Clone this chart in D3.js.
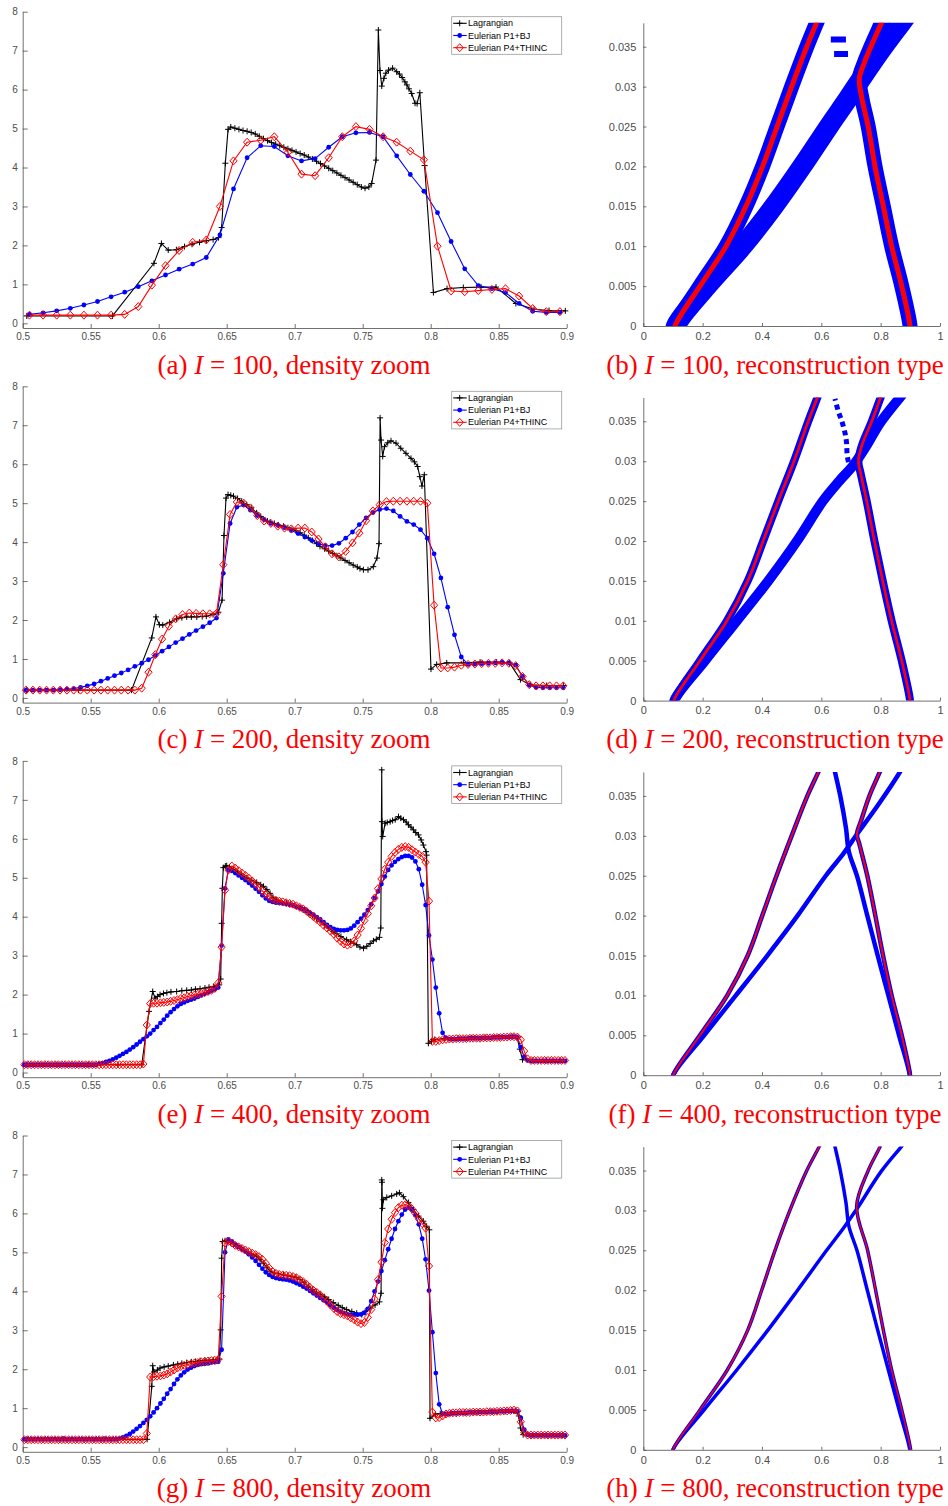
<!DOCTYPE html>
<html>
<head>
<meta charset="utf-8">
<script src="https://cdn.jsdelivr.net/npm/d3@7"></script>
<style>
  body { margin: 0; background: #fff; }
  .caption { font-family: 'Liberation Serif', 'Times New Roman', serif; font-size: 27px; fill: #ff0000; }
  .legend text { font-family: 'Liberation Sans', Arial, sans-serif; font-size: 9px; fill: #000; }
</style>
</head>
<body>
<div id="chart-area"></div>
<script>
// ---- ticks / labels ----
const resolutions = [100, 200, 400, 800];
const letters = [['a', 'b'], ['c', 'd'], ['e', 'f'], ['g', 'h']];
const densityXTicks = [0.5, 0.55, 0.6, 0.65, 0.7, 0.75, 0.8, 0.85, 0.9];
const densityYTicks = [0, 1, 2, 3, 4, 5, 6, 7, 8];
const reconXTicks = [0, 0.2, 0.4, 0.6, 0.8, 1];
const reconTTicks = [0, 0.005, 0.01, 0.015, 0.02, 0.025, 0.03, 0.035];
const legendLabels = ['Lagrangian', 'Eulerian P1+BJ', 'Eulerian P4+THINC'];

// ---- density, I = 100 ----
const lag100 = [[0.503,0.19],[0.566,0.19],[0.5965,1.54],[0.602,2.05],[0.607,1.88],[0.613,1.89],[0.619,1.97],[0.6245,2.03],[0.630,2.08],[0.635,2.12],[0.640,2.15],[0.644,2.20],[0.6463,2.46],[0.649,4.11],[0.651,4.98],[0.653,5.04],[0.656,5.01],[0.659,4.98],[0.662,4.95],[0.665,4.93],[0.668,4.90],[0.671,4.86],[0.674,4.80],[0.677,4.74],[0.680,4.69],[0.683,4.64],[0.686,4.60],[0.689,4.56],[0.692,4.52],[0.695,4.48],[0.698,4.44],[0.701,4.40],[0.704,4.36],[0.707,4.32],[0.710,4.27],[0.713,4.22],[0.716,4.16],[0.719,4.10],[0.722,4.04],[0.725,3.98],[0.728,3.92],[0.731,3.86],[0.734,3.80],[0.737,3.74],[0.740,3.68],[0.743,3.62],[0.746,3.56],[0.749,3.50],[0.7517,3.47],[0.7545,3.50],[0.7566,3.59],[0.7598,4.19],[0.7615,7.53],[0.7627,6.49],[0.764,6.09],[0.7656,6.29],[0.767,6.42],[0.769,6.50],[0.772,6.55],[0.775,6.46],[0.777,6.40],[0.779,6.31],[0.781,6.20],[0.7825,6.12],[0.784,6.02],[0.786,5.90],[0.7885,5.65],[0.790,5.64],[0.792,5.92],[0.7955,4.05],[0.802,0.79],[0.812,0.89],[0.824,0.92],[0.837,0.93],[0.848,0.93],[0.8626,0.51],[0.876,0.36],[0.887,0.33],[0.899,0.32]];
const p1bj100 = [0.23,0.27,0.32,0.385,0.47,0.56,0.68,0.80,0.94,1.09,1.24,1.39,1.52,1.69,2.27,3.45,4.25,4.56,4.54,4.30,4.17,4.23,4.52,4.79,4.89,4.90,4.79,4.30,3.82,3.39,2.84,2.10,1.40,0.97,0.89,0.79,0.51,0.31,0.28,0.28];
const thinc100 = [0.21,0.21,0.21,0.21,0.21,0.21,0.21,0.23,0.43,0.98,1.48,1.87,2.08,2.14,3.0,4.17,4.65,4.70,4.79,4.39,3.83,3.79,4.25,4.79,5.05,4.98,4.79,4.65,4.42,4.20,1.98,0.83,0.81,0.84,0.87,0.89,0.70,0.38,0.30,0.30];

// ---- density, I = 200 ----
const lag200 = [[0.503,0.2],[0.541,0.2],[0.580,0.2],[0.5949,1.54],[0.598,2.08],[0.6005,1.88],[0.603,1.87],[0.608,1.94],[0.613,2.03],[0.617,2.06],[0.6206,2.08],[0.624,2.08],[0.628,2.08],[0.632,2.09],[0.635,2.10],[0.640,2.14],[0.6439,2.2],[0.6466,2.51],[0.648,4.17],[0.6495,5.13],[0.651,5.22],[0.653,5.20],[0.655,5.18],[0.658,5.12],[0.661,5.05],[0.6647,4.96],[0.668,4.88],[0.672,4.75],[0.675,4.66],[0.677,4.58],[0.680,4.54],[0.6819,4.51],[0.685,4.48],[0.688,4.44],[0.6917,4.41],[0.695,4.37],[0.698,4.33],[0.701,4.29],[0.704,4.24],[0.707,4.18],[0.710,4.11],[0.713,4.04],[0.716,3.96],[0.7186,3.89],[0.722,3.83],[0.725,3.77],[0.728,3.71],[0.731,3.65],[0.734,3.59],[0.737,3.53],[0.740,3.47],[0.743,3.41],[0.746,3.36],[0.748,3.32],[0.7505,3.29],[0.7539,3.29],[0.7578,3.37],[0.7605,3.59],[0.762,3.96],[0.7628,7.19],[0.7635,6.62],[0.7647,6.20],[0.766,6.45],[0.7684,6.55],[0.7708,6.60],[0.7745,6.54],[0.778,6.41],[0.7818,6.28],[0.7855,6.15],[0.788,6.06],[0.7904,5.94],[0.792,5.68],[0.7936,5.44],[0.7953,5.73],[0.8002,0.74],[0.8044,0.86],[0.8118,0.90],[0.824,0.90],[0.8363,0.92],[0.8485,0.92],[0.858,0.90],[0.866,0.47],[0.8731,0.34],[0.8853,0.32],[0.8975,0.32]];
const p1bj200 = [0.20,0.20,0.20,0.20,0.20,0.21,0.22,0.24,0.27,0.31,
  0.36,0.43,0.50,0.57,0.64,0.72,0.81,0.89,0.98,1.09,
  1.20,1.31,1.42,1.52,1.63,1.73,1.83,1.93,2.05,3.20,
  4.48,4.90,4.95,4.82,4.68,4.58,4.48,4.43,4.37,4.30,
  4.22,4.13,4.04,3.96,3.91,3.91,3.97,4.10,4.26,4.45,
  4.62,4.76,4.84,4.86,4.80,4.66,4.53,4.45,4.32,4.10,
  3.70,3.08,2.33,1.62,1.05,0.86,0.87,0.88,0.89,0.90,
  0.91,0.90,0.84,0.55,0.33,0.27,0.26,0.26,0.26,0.26];
const thinc200 = [0.20,0.20,0.20,0.20,0.20,0.20,0.20,0.20,0.20,0.20,
  0.20,0.20,0.20,0.20,0.20,0.20,0.20,0.25,0.66,1.11,
  1.51,1.84,2.03,2.14,2.18,2.17,2.16,2.16,2.17,3.42,
  4.71,5.03,5.00,4.88,4.68,4.54,4.48,4.41,4.36,4.34,
  4.36,4.36,4.26,4.08,3.88,3.70,3.62,3.76,3.98,4.23,
  4.55,4.80,4.96,5.04,5.05,5.05,5.05,5.05,5.05,5.00,
  2.38,0.77,0.77,0.79,0.84,0.86,0.87,0.88,0.89,0.89,
  0.90,0.89,0.83,0.55,0.34,0.31,0.31,0.31,0.31,0.31];

// ---- density, I = 400 ----
const lag400 = [[0.503,0.2],[0.525,0.2],[0.548,0.2],[0.570,0.2],[0.5875,0.2],[0.5929,1.57],[0.5956,2.08],[0.5973,1.91],[0.599,1.95],[0.601,2.00],[0.6035,2.03],[0.606,2.05],[0.609,2.07],[0.6132,2.08],[0.617,2.10],[0.6206,2.11],[0.624,2.12],[0.627,2.14],[0.6304,2.15],[0.634,2.17],[0.637,2.19],[0.6402,2.21],[0.643,2.23],[0.6445,2.25],[0.6456,2.40],[0.6463,3.83],[0.6468,4.73],[0.6475,5.26],[0.649,5.30],[0.650,5.31],[0.652,5.28],[0.655,5.22],[0.658,5.15],[0.661,5.07],[0.6647,5.00],[0.668,4.94],[0.672,4.88],[0.675,4.82],[0.677,4.78],[0.6795,4.70],[0.6819,4.60],[0.684,4.50],[0.6868,4.43],[0.690,4.39],[0.6941,4.35],[0.697,4.32],[0.700,4.29],[0.7039,4.23],[0.707,4.17],[0.710,4.10],[0.713,4.03],[0.716,3.95],[0.7186,3.88],[0.722,3.79],[0.725,3.71],[0.7284,3.62],[0.731,3.56],[0.734,3.49],[0.7382,3.41],[0.741,3.36],[0.7435,3.32],[0.7456,3.28],[0.748,3.22],[0.7506,3.19],[0.753,3.24],[0.7555,3.31],[0.7579,3.38],[0.760,3.42],[0.7623,3.47],[0.7633,3.71],[0.764,7.77],[0.7642,6.44],[0.7647,6.06],[0.7665,6.40],[0.768,6.42],[0.7702,6.44],[0.772,6.47],[0.7739,6.49],[0.7763,6.57],[0.778,6.53],[0.780,6.49],[0.782,6.43],[0.7836,6.36],[0.7855,6.30],[0.7873,6.23],[0.789,6.16],[0.791,6.10],[0.793,5.97],[0.7946,5.84],[0.7966,5.67],[0.797,5.58],[0.7983,0.75],[0.8005,0.80],[0.803,0.85],[0.810,0.87],[0.820,0.88],[0.830,0.89],[0.840,0.90],[0.850,0.91],[0.860,0.92],[0.8635,0.90],[0.8655,0.60],[0.8675,0.33],[0.875,0.31],[0.885,0.31],[0.895,0.31]];
const p1bj400 = [0.20,0.20,0.20,0.20,0.20,0.20,0.20,0.20,0.20,0.20,
  0.20,0.20,0.20,0.20,0.20,0.20,0.20,0.20,0.20,0.20,
  0.20,0.20,0.22,0.24,0.27,0.30,0.34,0.38,0.43,0.48,
  0.53,0.59,0.65,0.72,0.79,0.86,0.93,1.00,1.09,1.17,
  1.27,1.36,1.46,1.55,1.63,1.70,1.76,1.80,1.84,1.87,
  1.90,1.94,1.98,2.02,2.06,2.10,2.14,2.18,3.26,4.73,
  5.20,5.18,5.12,5.06,5.00,4.94,4.87,4.80,4.72,4.64,
  4.55,4.47,4.41,4.38,4.36,4.35,4.34,4.33,4.31,4.29,
  4.26,4.23,4.19,4.15,4.10,4.05,3.99,3.93,3.86,3.79,
  3.73,3.69,3.66,3.65,3.65,3.66,3.70,3.77,3.86,3.95,
  4.05,4.17,4.32,4.48,4.65,4.84,5.03,5.20,5.32,5.41,
  5.48,5.53,5.56,5.56,5.52,5.42,5.22,4.82,4.30,3.52,
  2.90,2.18,1.52,1.02,0.89,0.86,0.86,0.86,0.87,0.87,
  0.87,0.88,0.88,0.88,0.88,0.89,0.89,0.89,0.90,0.90,
  0.90,0.91,0.91,0.92,0.92,0.90,0.65,0.40,0.31,0.30,
  0.30,0.30,0.30,0.30,0.30,0.30,0.30,0.30,0.30,0.30];
const thinc400 = [0.20,0.20,0.20,0.20,0.20,0.20,0.20,0.20,0.20,0.20,
  0.20,0.20,0.20,0.20,0.20,0.20,0.20,0.20,0.20,0.20,
  0.20,0.20,0.20,0.20,0.20,0.20,0.20,0.20,0.20,0.20,
  0.20,0.20,0.20,0.20,0.20,0.22,1.22,1.77,1.78,1.78,
  1.79,1.80,1.81,1.83,1.85,1.87,1.90,1.92,1.95,1.97,
  1.99,2.01,2.03,2.05,2.08,2.11,2.16,2.30,3.22,4.68,
  5.20,5.30,5.25,5.18,5.12,5.06,4.99,4.92,4.84,4.76,
  4.66,4.58,4.51,4.45,4.42,4.40,4.38,4.36,4.34,4.32,
  4.28,4.24,4.20,4.14,4.07,4.00,3.93,3.86,3.78,3.71,
  3.63,3.55,3.45,3.37,3.30,3.27,3.30,3.38,3.53,3.70,
  3.90,4.08,4.28,4.48,4.72,4.97,5.22,5.40,5.55,5.65,
  5.73,5.78,5.80,5.78,5.72,5.66,5.60,5.55,5.40,4.40,
  0.80,0.80,0.82,0.84,0.85,0.86,0.86,0.87,0.87,0.87,
  0.87,0.88,0.88,0.88,0.88,0.89,0.89,0.89,0.90,0.90,
  0.90,0.91,0.91,0.92,0.92,0.91,0.84,0.55,0.35,0.31,
  0.31,0.31,0.31,0.31,0.31,0.31,0.31,0.31,0.31,0.31];

// ---- density, I = 800 (read every 0.0025) ----
const lag800 = [[0.503,0.2],[0.53,0.2],[0.56,0.2],[0.5915,0.2],[0.5949,1.56],[0.5956,2.09],[0.5966,1.93],[0.599,1.98],[0.601,2.03],[0.604,2.06],[0.607,2.08],[0.6108,2.11],[0.614,2.13],[0.617,2.15],[0.6206,2.17],[0.624,2.19],[0.627,2.20],[0.6304,2.22],[0.634,2.23],[0.637,2.23],[0.6402,2.24],[0.643,2.25],[0.6446,2.26],[0.6456,3.01],[0.6463,4.85],[0.647,5.28],[0.6488,5.30],[0.651,5.28],[0.653,5.25],[0.655,5.22],[0.658,5.16],[0.661,5.10],[0.6647,5.02],[0.668,4.97],[0.672,4.90],[0.6745,4.82],[0.677,4.72],[0.6795,4.62],[0.6819,4.51],[0.685,4.47],[0.688,4.45],[0.6917,4.42],[0.695,4.40],[0.698,4.38],[0.701,4.36],[0.7039,4.30],[0.707,4.22],[0.710,4.13],[0.713,4.05],[0.716,3.98],[0.7186,3.93],[0.722,3.86],[0.725,3.79],[0.7284,3.71],[0.732,3.64],[0.735,3.58],[0.7382,3.53],[0.742,3.48],[0.7456,3.44],[0.7493,3.40],[0.7518,3.48],[0.7554,3.57],[0.7591,3.65],[0.7623,3.73],[0.7635,3.95],[0.764,6.86],[0.7642,6.80],[0.7645,6.13],[0.7652,6.35],[0.7677,6.41],[0.7713,6.45],[0.775,6.50],[0.777,6.53],[0.7799,6.43],[0.7836,6.28],[0.7873,6.10],[0.791,5.93],[0.7946,5.80],[0.797,5.67],[0.799,5.58],[0.7995,0.74],[0.8034,0.85],[0.807,0.86],[0.815,0.88],[0.825,0.89],[0.835,0.90],[0.845,0.91],[0.855,0.92],[0.8625,0.93],[0.8648,0.80],[0.866,0.49],[0.868,0.32],[0.875,0.31],[0.885,0.31],[0.897,0.31]];
const p1bj800 = [0.20,0.20,0.20,0.20,0.20,0.20,0.20,0.20,0.20,0.20,
  0.20,0.20,0.20,0.20,0.20,0.20,0.20,0.20,0.20,0.20,
  0.20,0.20,0.20,0.20,0.20,0.20,0.20,0.20,0.22,0.25,
  0.29,0.34,0.40,0.47,0.54,0.62,0.70,0.79,0.89,1.00,
  1.12,1.24,1.37,1.49,1.62,1.74,1.84,1.92,1.99,2.04,
  2.08,2.11,2.13,2.14,2.15,2.17,2.18,2.19,2.50,5.00,
  5.33,5.28,5.20,5.14,5.08,5.02,4.95,4.87,4.78,4.68,
  4.58,4.49,4.42,4.37,4.34,4.32,4.31,4.30,4.28,4.25,
  4.21,4.17,4.12,4.07,4.01,3.95,3.89,3.83,3.77,3.71,
  3.64,3.58,3.52,3.47,3.44,3.41,3.40,3.40,3.40,3.41,
  3.45,3.55,3.75,4.00,4.25,4.52,4.80,5.08,5.35,5.60,
  5.80,5.97,6.10,6.15,6.10,5.95,5.72,5.35,4.82,4.02,
  2.95,1.90,1.10,0.86,0.85,0.86,0.87,0.87,0.88,0.88,
  0.88,0.89,0.89,0.89,0.90,0.90,0.90,0.91,0.91,0.91,
  0.92,0.92,0.93,0.93,0.93,0.92,0.75,0.45,0.32,0.30,
  0.30,0.30,0.30,0.30,0.30,0.30,0.30,0.30,0.30,0.30];
const thinc800 = [0.19,0.19,0.19,0.19,0.19,0.19,0.19,0.19,0.19,0.19,
  0.19,0.19,0.19,0.19,0.19,0.19,0.19,0.19,0.19,0.19,
  0.19,0.19,0.19,0.19,0.19,0.19,0.19,0.19,0.19,0.19,
  0.19,0.19,0.19,0.19,0.19,0.19,0.35,1.80,1.81,1.82,
  1.83,1.85,1.88,1.93,1.98,2.03,2.07,2.10,2.12,2.14,
  2.16,2.17,2.19,2.20,2.21,2.22,2.23,2.25,3.87,5.24,
  5.28,5.24,5.18,5.14,5.10,5.06,5.02,4.98,4.94,4.89,
  4.82,4.72,4.60,4.51,4.46,4.43,4.42,4.41,4.40,4.38,
  4.35,4.30,4.25,4.18,4.10,4.03,3.97,3.91,3.83,3.75,
  3.65,3.56,3.48,3.43,3.40,3.37,3.32,3.27,3.21,3.17,
  3.20,3.33,3.53,3.80,4.30,4.75,5.25,5.60,5.85,6.02,
  6.15,6.21,6.22,6.20,6.11,6.00,5.86,5.74,5.62,4.65,
  0.90,0.75,0.76,0.80,0.85,0.87,0.88,0.88,0.89,0.89,
  0.89,0.89,0.90,0.90,0.90,0.90,0.91,0.91,0.91,0.92,
  0.92,0.93,0.93,0.94,0.95,0.93,0.65,0.38,0.31,0.31,
  0.31,0.31,0.31,0.31,0.31,0.31,0.31,0.31,0.31,0.31];

// spacing of the Eulerian samples in each row
const eulerSteps = [0.01, 0.005, 0.0025, 0.0025];

// ---- reconstruction type: [x, t] along each flagged band ----
const leftFront100 = [[0.105,-0.001],[0.107,0],[0.191,0.005],[0.279,0.01],[0.346,0.015],[0.402,0.02],[0.451,0.025],[0.500,0.03],[0.551,0.035],[0.584,0.038],[0.595,0.039]];
const lowerFront100 = [[0.11,-0.001],[0.11,0],[0.215,0.005],[0.335,0.01],[0.44,0.015],[0.535,0.02],[0.625,0.025],[0.69,0.0285],[0.735,0.031],[0.80,0.0345],[0.87,0.038],[0.89,0.039]];
const rightFront100 = [[0.899,-0.001],[0.899,0],[0.871,0.005],[0.837,0.01],[0.809,0.015],[0.781,0.02],[0.758,0.025],[0.737,0.0285],[0.728,0.031],[0.745,0.033],[0.767,0.035],[0.803,0.038],[0.815,0.039]];
const innerFront100 = [[[0.632,0.0359],[0.683,0.0359]], [[0.643,0.0341],[0.69,0.0341]]];

const leftFront200 = [[0.101,-0.001],[0.103,0],[0.191,0.005],[0.282,0.01],[0.352,0.015],[0.404,0.02],[0.455,0.025],[0.508,0.03],[0.556,0.035],[0.587,0.038],[0.597,0.039]];
const lowerFront200 = [[0.105,-0.001],[0.105,0],[0.208,0.005],[0.315,0.01],[0.421,0.015],[0.518,0.02],[0.605,0.025],[0.66,0.0275],[0.708,0.0295],[0.753,0.032],[0.798,0.0348],[0.876,0.0385],[0.89,0.0392]];
const rightFront200 = [[0.899,-0.001],[0.899,0],[0.871,0.005],[0.837,0.01],[0.807,0.015],[0.779,0.02],[0.753,0.025],[0.733,0.0284],[0.725,0.030],[0.736,0.0319],[0.770,0.035],[0.80,0.038],[0.81,0.039]];
const innerFront200 = [[[0.70,0.0288],[0.688,0.0305],[0.685,0.0323],[0.68,0.0335],[0.671,0.0348],[0.657,0.0363],[0.646,0.0378]]];

const leftFront400 = [[0.099,-0.001],[0.101,0],[0.191,0.005],[0.283,0.01],[0.352,0.015],[0.401,0.02],[0.449,0.025],[0.500,0.03],[0.553,0.035],[0.590,0.038],[0.60,0.039]];
const lowerFront400 = [[0.101,-0.001],[0.101,0],[0.205,0.005],[0.312,0.01],[0.418,0.015],[0.52,0.02],[0.615,0.025],[0.675,0.0278],[0.72,0.0302],[0.79,0.0338],[0.865,0.038],[0.88,0.039]];
const rightFront400 = [[0.899,-0.001],[0.899,0],[0.871,0.005],[0.837,0.01],[0.808,0.015],[0.782,0.02],[0.755,0.025],[0.728,0.029],[0.72,0.0302],[0.735,0.032],[0.762,0.035],[0.797,0.038],[0.807,0.039]];
const innerFront400 = [[[0.898,-0.001],[0.898,0],[0.862,0.005],[0.826,0.01],[0.79,0.015],[0.755,0.02],[0.72,0.025],[0.693,0.028],[0.683,0.031],[0.664,0.035],[0.646,0.038],[0.64,0.039]]];

const leftFront800 = [[0.098,-0.001],[0.100,0],[0.191,0.005],[0.283,0.01],[0.352,0.015],[0.399,0.02],[0.444,0.025],[0.494,0.03],[0.551,0.035],[0.593,0.038],[0.605,0.039]];
const lowerFront800 = [[0.10,-0.001],[0.10,0],[0.205,0.005],[0.315,0.01],[0.42,0.015],[0.52,0.02],[0.618,0.025],[0.675,0.0278],[0.72,0.0302],[0.80,0.0348],[0.87,0.038],[0.885,0.0387]];
const rightFront800 = [[0.901,-0.001],[0.901,0],[0.871,0.005],[0.837,0.01],[0.809,0.015],[0.783,0.02],[0.756,0.025],[0.719,0.0305],[0.758,0.035],[0.798,0.038],[0.808,0.039]];
const innerFront800 = [[[0.898,-0.001],[0.898,0],[0.862,0.005],[0.826,0.01],[0.79,0.015],[0.755,0.02],[0.72,0.025],[0.693,0.028],[0.683,0.031],[0.664,0.035],[0.646,0.038],[0.64,0.039]]];

const densityRows = [
  { lag: lag100, p1: p1bj100, p4: thinc100 },
  { lag: lag200, p1: p1bj200, p4: thinc200 },
  { lag: lag400, p1: p1bj400, p4: thinc400 },
  { lag: lag800, p1: p1bj800, p4: thinc800 }
];
const reconRows = [
  { left: leftFront100, lower: lowerFront100, right: rightFront100, inner: innerFront100 },
  { left: leftFront200, lower: lowerFront200, right: rightFront200, inner: innerFront200 },
  { left: leftFront400, lower: lowerFront400, right: rightFront400, inner: innerFront400 },
  { left: leftFront800, lower: lowerFront800, right: rightFront800, inner: innerFront800 }
];

// band stroke widths (px) per row
const bandStyles = [
  { blue: 15, lower: 20, red: 5, inner: 6, dash: null },
  { blue: 8, lower: 10, red: 2.7, inner: 5, dash: '5,4' },
  { blue: 4.5, lower: 4.5, red: 2, inner: 4.5, dash: null },
  { blue: 3.5, lower: 3.5, red: 1.5, inner: 3.5, dash: null }
];

const BLACK = '#000000', BLUE = '#0000ff', RED = '#ff0000', AXIS = '#4d4d4d';
const rowGap = 374.6;
const plusPath = 'M-3,0H3M0,-3V3';
const diamondPath = 'M0,-4L3.6,0L0,4L-3.6,0Z';

const styleAxis = (g, size) => {
  g.attr('color', AXIS)
    .attr('font-family', "'Liberation Sans', Arial, sans-serif")
    .attr('font-size', size);
  g.selectAll('path, line').attr('stroke-width', 0.8);
};

const drawMarkers = (g, pts, x, y, kind, color) => {
  const sel = g.append('g').selectAll('path').data(pts).enter();
  if (kind === 'dot') {
    sel.append('circle')
      .attr('cx', d => x(d[0])).attr('cy', d => y(d[1]))
      .attr('r', 2.4).attr('fill', color);
  } else {
    sel.append('path')
      .attr('transform', d => `translate(${x(d[0])},${y(d[1])})`)
      .attr('d', kind === 'plus' ? plusPath : diamondPath)
      .attr('fill', 'none').attr('stroke', color).attr('stroke-width', 1);
  }
};

const drawSeries = (g, pts, x, y, color, kind) => {
  const line = d3.line().x(d => x(d[0])).y(d => y(d[1]));
  g.append('path').datum(pts)
    .attr('fill', 'none').attr('stroke', color).attr('stroke-width', 1.1)
    .attr('d', line);
  drawMarkers(g, pts, x, y, kind, color);
};

const addCaption = (svg, cx, baseline, letter, res, tail) => {
  const cap = svg.append('text').attr('class', 'caption')
    .attr('x', cx).attr('y', baseline).attr('text-anchor', 'middle');
  cap.append('tspan').text(`(${letter}) `);
  cap.append('tspan').attr('font-style', 'italic').text('I');
  cap.append('tspan').text(` = ${res}, ${tail}`);
};

const drawDensity = (svg, row) => {
  const top = 11.7 + row * rowGap;
  const bottom = top + 316.3;
  const x = d3.scaleLinear().domain([0.5, 0.9]).range([22.7, 566.7]);
  const y = d3.scaleLinear().domain([-0.12, 8]).range([bottom, top]);
  const g = svg.append('g');

  g.append('g').attr('transform', `translate(0,${bottom})`)
    .call(d3.axisBottom(x).tickValues(densityXTicks).tickFormat(d3.format(''))
      .tickSizeInner(-4).tickSizeOuter(0).tickPadding(5))
    .call(styleAxis, 10);
  g.append('g').attr('transform', `translate(${x(0.5)},0)`)
    .call(d3.axisLeft(y).tickValues(densityYTicks).tickFormat(d3.format(''))
      .tickSizeInner(-5).tickSizeOuter(0).tickPadding(5))
    .call(styleAxis, 10);

  const data = densityRows[row];
  const step = eulerSteps[row];
  const cells = vals => vals.map((v, i) => [0.5 + (i + 0.5) * step, v]);
  drawSeries(g, data.lag, x, y, BLACK, 'plus');
  drawSeries(g, cells(data.p1), x, y, BLUE, 'dot');
  drawSeries(g, cells(data.p4), x, y, RED, 'diamond');

  // legend
  const lg = g.append('g').attr('class', 'legend').attr('transform', `translate(451.7,${top + 5})`);
  lg.append('rect').attr('width', 110).attr('height', 37.6)
    .attr('fill', '#fff').attr('stroke', '#9a9a9a').attr('stroke-width', 0.8);
  const kinds = [['plus', BLACK], ['dot', BLUE], ['diamond', RED]];
  legendLabels.forEach((lab, i) => {
    const ly = 6.6 + i * 12.2;
    lg.append('line').attr('x1', 1.5).attr('x2', 15).attr('y1', ly).attr('y2', ly)
      .attr('stroke', kinds[i][1]).attr('stroke-width', 1.1);
    drawMarkers(lg, [[8, ly]], v => v, v => v, kinds[i][0], kinds[i][1]);
    lg.append('text').attr('x', 16.3).attr('y', ly + 3.2).text(lab);
  });

  addCaption(svg, 294, 373.5 + row * rowGap, letters[row][0], resolutions[row], 'density zoom');
};

const drawRecon = (svg, row) => {
  const bottom = 326 + row * rowGap;
  const x = d3.scaleLinear().domain([0, 1]).range([643.3, 940]);
  const t = d3.scaleLinear().domain([0, 0.038]).range([bottom, bottom - 303.2]);
  const g = svg.append('g');

  g.append('g').attr('transform', `translate(0,${bottom})`)
    .call(d3.axisBottom(x).tickValues(reconXTicks).tickFormat(d3.format(''))
      .tickSizeInner(-3).tickSizeOuter(0).tickPadding(6))
    .call(styleAxis, 11);
  g.append('g').attr('transform', `translate(${x(0)},0)`)
    .call(d3.axisLeft(t).tickValues(reconTTicks).tickFormat(d3.format(''))
      .tickSizeInner(-3).tickSizeOuter(0).tickPadding(7))
    .call(styleAxis, 11);

  const clipId = `clip-recon-${row}`;
  svg.append('clipPath').attr('id', clipId).append('rect')
    .attr('x', x(0)).attr('y', t(0.038)).attr('width', x(1) - x(0)).attr('height', t(0) - t(0.038));

  const bands = g.append('g').attr('clip-path', `url(#${clipId})`);
  const line = d3.line().x(d => x(d[0])).y(d => t(d[1])).curve(d3.curveCatmullRom.alpha(0.5));
  const st = bandStyles[row];
  const data = reconRows[row];
  const band = (pts, color, w, dash) => bands.append('path').datum(pts)
    .attr('fill', 'none').attr('stroke', color).attr('stroke-width', w)
    .attr('stroke-linejoin', 'round').attr('stroke-dasharray', dash)
    .attr('d', line);

  band(data.lower, BLUE, st.lower, null);
  data.inner.forEach(seg => band(seg, BLUE, st.inner, st.dash));
  band(data.left, BLUE, st.blue, null);
  band(data.right, BLUE, st.blue, null);
  band(data.left, RED, st.red, null);
  band(data.right, RED, st.red, null);

  addCaption(svg, 775, 373.5 + row * rowGap, letters[row][1], resolutions[row], 'reconstruction type');
};

const main = () => {
  const svg = d3.select('#chart-area').append('svg')
    .attr('width', 948).attr('height', 1506);
  resolutions.forEach((res, row) => {
    drawDensity(svg, row);
    drawRecon(svg, row);
  });
};
window.onload = main;
</script>
</body>
</html>
